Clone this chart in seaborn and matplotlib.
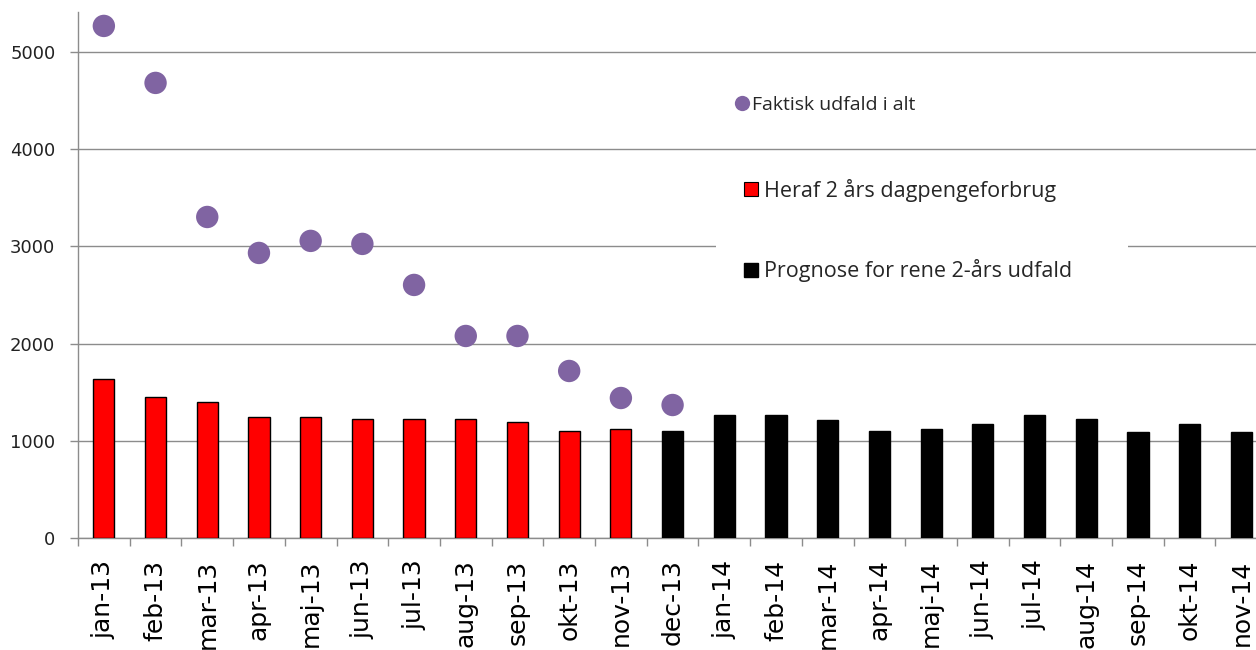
import numpy as np
import pandas as pd
import matplotlib
matplotlib.use('Agg')
import matplotlib.pyplot as plt
import seaborn as sns
from matplotlib.lines import Line2D
from matplotlib.patches import Patch, Rectangle

# data
months = ['jan-13', 'feb-13', 'mar-13', 'apr-13', 'maj-13', 'jun-13', 'jul-13',
          'aug-13', 'sep-13', 'okt-13', 'nov-13', 'dec-13', 'jan-14', 'feb-14',
          'mar-14', 'apr-14', 'maj-14', 'jun-14', 'jul-14', 'aug-14', 'sep-14',
          'okt-14', 'nov-14']
bar_values = [1636, 1450, 1399, 1245, 1245, 1224, 1224, 1224, 1193, 1100, 1121,
              1100, 1265, 1265, 1214, 1100, 1121, 1173, 1265, 1224, 1090, 1173, 1090]
bar_kind = ['faktisk'] * 11 + ['prognose'] * 12
dot_values = [5267, 4681, 3302, 2932, 3056, 3025, 2603, 2078, 2078, 1718, 1440, 1368]
yticks = [0, 1000, 2000, 3000, 4000, 5000]

label_dots = 'Faktisk udfald i alt'
label_red = 'Heraf 2 års dagpengeforbrug'
label_black = 'Prognose for rene 2-års udfald'

purple = '#8064A2'
grid_grey = '#8c8c8c'

sns.set_theme(style='white')
plt.rcParams['font.family'] = ['DejaVu Sans']

df = pd.DataFrame({'month': months, 'value': bar_values, 'kind': bar_kind})

fig = plt.figure(figsize=(12.56, 6.5), dpi=100)
ax = fig.add_axes([0.0621, 0.1723, 0.9468, 0.8092])

sns.barplot(data=df, x='month', y='value', hue='kind', dodge=False,
            palette={'faktisk': '#ff0000', 'prognose': '#000000'}, saturation=1,
            width=0.41, edgecolor='black', linewidth=1.0, legend=False,
            ax=ax, zorder=3)
sns.scatterplot(x=np.arange(len(dot_values)), y=dot_values, color=purple,
                s=260, edgecolor='none', ax=ax, zorder=4)

ax.set_xlim(-0.5, len(months) - 0.5)
ax.set_ylim(0, 5410)
ax.set_yticks(yticks)
ax.set_yticklabels([str(v) for v in yticks], fontsize=13, color='#222222')
ax.set_xticks(np.arange(len(months)))
ax.set_xticklabels(months, rotation=90, fontsize=18, color='black')
ax.set_xticks(np.arange(len(months) + 1) - 0.5, minor=True)
ax.tick_params(axis='x', which='major', bottom=True, length=0, pad=15.5)
ax.tick_params(axis='x', which='minor', bottom=True, length=5.8, width=1,
               color=grid_grey, direction='out')
ax.tick_params(axis='y', left=True, length=5.8, width=1, color=grid_grey,
               direction='out', pad=10.5)
ax.set_xlabel('')
ax.set_ylabel('')

ax.grid(axis='y', color=grid_grey, linewidth=1.0, zorder=0)
ax.set_axisbelow(True)
for side in ['top', 'right']:
    ax.spines[side].set_visible(False)
for side in ['left', 'bottom']:
    ax.spines[side].set_color(grid_grey)
    ax.spines[side].set_linewidth(1.0)

leg_font = ['Open Sans', 'DejaVu Sans']

h1 = [Line2D([0], [0], marker='o', color='none', markerfacecolor=purple,
             markeredgecolor='none', markersize=11)]
leg1 = ax.legend(h1, [label_dots], loc='center left', frameon=False,
                 bbox_to_anchor=(735 / 1256, 1 - 105 / 650), bbox_transform=fig.transFigure,
                 handlelength=0.75, handletextpad=0.15, borderpad=0, borderaxespad=0,
                 prop={'family': leg_font, 'size': 14})
ax.add_artist(leg1)

h2 = [Patch(facecolor='#ff0000', edgecolor='black', linewidth=0.8)]
leg2 = ax.legend(h2, [label_red], loc='center left', frameon=False,
                 bbox_to_anchor=(744 / 1256, 1 - 190 / 650), bbox_transform=fig.transFigure,
                 handlelength=0.65, handleheight=0.65, handletextpad=0.3, borderpad=0,
                 borderaxespad=0, prop={'family': leg_font, 'size': 15.5})
ax.add_artist(leg2)

# white background behind the third legend entry, breaking the 3000 gridline
ax.add_patch(Rectangle((716 / 1256, 1 - 300 / 650), 412 / 1256, 60 / 650,
                       transform=fig.transFigure, facecolor='white',
                       edgecolor='none', zorder=1))

h3 = [Patch(facecolor='black', edgecolor='black')]
leg3 = ax.legend(h3, [label_black], loc='center left', frameon=False,
                 bbox_to_anchor=(744 / 1256, 1 - 271 / 650), bbox_transform=fig.transFigure,
                 handlelength=0.65, handleheight=0.65, handletextpad=0.3, borderpad=0,
                 borderaxespad=0, prop={'family': leg_font, 'size': 15.5})

fig.savefig('out.png', dpi=100)
